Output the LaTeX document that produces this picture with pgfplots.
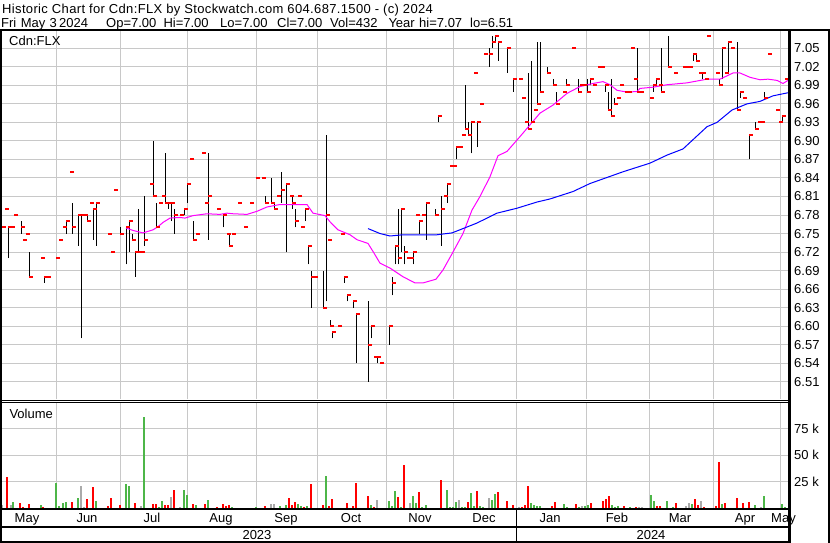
\documentclass[border=0pt]{standalone}
\usepackage{fontspec}
\setmainfont{Liberation Sans}
\usepackage{pgfplots}
\pgfplotsset{compat=1.18}
\usepackage{pgfplotstable}
\definecolor{gridgray}{RGB}{200,200,200}
\definecolor{vgreen}{RGB}{77,182,72}
\definecolor{vgrey}{RGB}{170,170,170}
\definecolor{pred}{RGB}{255,0,0}
\definecolor{mamag}{RGB}{255,0,255}
\definecolor{mablue}{RGB}{0,0,255}
\pgfdeclareplotmark{closetick}{\pgfpathrectangle{\pgfpoint{0pt}{-1pt}}{\pgfpoint{3.6pt}{2pt}}\pgfusepathqfill}
\newcommand{\tf}{\fontsize{13}{15}\selectfont}

\pgfplotstableread{
x lo hi c
2 6.76 6.76 6.76
5 6.79 6.79 6.79
8 6.71 6.76 6.76
11 6.76 6.76 6.76
14 6.78 6.78 6.78
21 6.75 6.77 6.76
23 6.74 6.74 6.74
26 6.75 6.75 6.75
29 6.68 6.72 6.68
41 6.71 6.71 6.71
44 6.67 6.68 6.68
47 6.68 6.68 6.68
56 6.71 6.71 6.71
59 6.74 6.74 6.74
63 6.76 6.76 6.76
66 6.75 6.77 6.77
70 6.85 6.85 6.85
72 6.75 6.80 6.76
78 6.73 6.78 6.78
81 6.58 6.78 6.78
84 6.78 6.78 6.78
87 6.77 6.78 6.77
90 6.80 6.80 6.80
93 6.74 6.79 6.79
96 6.73 6.80 6.80
108 6.75 6.75 6.75
111 6.72 6.72 6.72
114 6.82 6.82 6.82
120 6.75 6.76 6.75
126 6.70 6.76 6.76
129 6.72 6.77 6.77
132 6.74 6.75 6.74
135 6.68 6.72 6.72
138 6.72 6.79 6.72
141 6.72 6.72 6.72
144 6.73 6.81 6.74
150 6.83 6.83 6.83
153 6.81 6.90 6.81
156 6.76 6.80 6.76
159 6.80 6.80 6.80
162 6.81 6.81 6.81
165 6.80 6.88 6.80
168 6.79 6.80 6.80
171 6.77 6.80 6.80
174 6.75 6.79 6.78
180 6.78 6.78 6.78
184 6.78 6.79 6.79
187 6.80 6.83 6.83
190 6.87 6.87 6.87
193 6.74 6.77 6.74
196 6.75 6.75 6.75
202 6.88 6.88 6.88
205 6.80 6.80 6.80
208 6.74 6.88 6.81
217 6.79 6.79 6.79
223 6.76 6.78 6.78
227 6.75 6.75 6.75
229 6.73 6.75 6.73
232 6.75 6.75 6.75
238 6.80 6.80 6.80
244 6.76 6.76 6.76
250 6.80 6.80 6.80
256 6.84 6.84 6.84
262 6.84 6.84 6.84
265 6.80 6.81 6.80
271 6.80 6.84 6.80
274 6.79 6.80 6.79
277 6.81 6.81 6.81
281 6.80 6.85 6.82
286 6.72 6.83 6.83
290 6.81 6.81 6.81
292 6.79 6.81 6.80
295 6.76 6.79 6.77
298 6.81 6.81 6.81
301 6.76 6.76 6.76
305 6.77 6.79 6.79
308 6.70 6.73 6.73
311 6.63 6.69 6.68
314 6.68 6.68 6.68
323 6.63 6.69 6.63
326 6.64 6.91 6.78
328 6.74 6.74 6.74
330 6.60 6.61 6.60
332 6.58 6.59 6.59
338 6.60 6.60 6.60
341 6.75 6.75 6.75
344 6.67 6.68 6.68
347 6.64 6.65 6.65
353 6.63 6.64 6.64
356 6.54 6.62 6.62
368 6.51 6.64 6.57
371 6.58 6.60 6.60
374 6.55 6.55 6.55
377 6.54 6.55 6.55
380 6.54 6.54 6.54
389 6.57 6.60 6.60
392 6.65 6.68 6.67
395 6.70 6.73 6.73
398 6.70 6.79 6.71
401 6.72 6.79 6.79
404 6.70 6.73 6.72
407 6.71 6.71 6.71
410 6.71 6.71 6.71
413 6.70 6.72 6.72
416 6.78 6.78 6.78
419 6.75 6.77 6.77
422 6.78 6.78 6.78
426 6.74 6.80 6.80
435 6.78 6.79 6.78
438 6.93 6.94 6.94
441 6.73 6.81 6.79
444 6.81 6.81 6.81
447 6.80 6.83 6.83
450 6.86 6.86 6.86
453 6.86 6.86 6.86
456 6.87 6.89 6.89
459 6.89 6.89 6.89
462 6.91 6.91 6.91
465 6.92 6.99 6.92
468 6.91 6.93 6.91
471 6.88 6.93 6.93
474 7.01 7.01 7.01
477 6.89 6.93 6.93
480 6.96 6.96 6.96
484 7.04 7.04 7.04
489 7.02 7.05 7.04
492 7.05 7.07 7.06
495 7.06 7.07 7.07
498 7.03 7.06 7.06
507 7.01 7.05 7.05
513 6.98 7.00 7.00
519 7.00 7.00 7.00
522 6.97 6.97 6.97
525 6.93 6.93 6.93
528 6.92 7.01 6.92
531 6.93 7.03 6.93
534 6.95 6.95 6.95
537 6.96 7.06 6.96
540 6.98 7.06 6.98
547 7.01 7.02 7.01
553 6.99 7.00 6.99
556 6.96 6.98 6.96
563 6.98 6.98 6.98
566 6.99 7.00 6.99
572 7.05 7.05 7.05
578 6.98 7.00 6.98
580 6.99 6.99 6.99
583 6.99 6.99 6.99
587 6.98 7.00 6.98
590 6.99 7.00 7.00
593 6.99 6.99 6.99
598 7.02 7.02 7.02
601 7.02 7.02 7.02
605 6.98 6.99 6.99
608 6.95 6.98 6.95
611 6.94 7.00 6.94
614 6.96 6.97 6.96
617 6.97 6.97 6.97
620 6.99 6.99 6.99
625 6.98 6.98 6.98
628 6.98 6.98 6.98
631 7.05 7.05 7.05
634 7.00 7.00 7.00
637 6.98 7.05 6.98
640 6.98 6.98 6.98
650 6.97 6.97 6.97
653 6.98 6.99 6.99
656 6.99 7.00 7.00
659 6.99 6.99 6.99
661 6.98 7.05 6.98
668 7.02 7.07 7.02
674 7.01 7.01 7.01
683 7.02 7.02 7.02
686 7.02 7.02 7.02
689 7.02 7.02 7.02
693 7.03 7.04 7.04
696 7.03 7.04 7.03
699 7.01 7.01 7.01
702 7.00 7.01 7.01
705 7.00 7.00 7.00
707 7.07 7.07 7.07
716 7.01 7.01 7.01
719 6.99 7.00 6.99
722 7.00 7.05 7.05
725 7.01 7.01 7.01
728 7.01 7.06 7.06
731 7.05 7.05 7.05
737 6.95 7.06 6.95
740 6.97 6.98 6.98
743 6.97 6.97 6.97
749 6.87 6.91 6.91
755 6.92 6.93 6.92
758 6.93 6.93 6.93
761 6.93 6.93 6.93
764 6.97 6.98 6.97
768 7.04 7.04 7.04
776 6.95 6.95 6.95
779 6.93 6.93 6.93
782 6.93 6.94 6.94
785 7.00 7.00 7.00
}\ohlc

\pgfplotstableread{
x v
13.3 6.0
40.7 2.8
55.7 23.9
58.7 1.9
62.7 5.0
65.7 6.0
77.7 9.7
89.7 0.3
95.7 6.6
113.7 0.3
125.7 22.6
128.7 21.0
143.7 85.8
158.7 0.9
161.7 6.6
183.7 17.0
186.7 12.6
189.7 0.3
195.7 2.8
207.7 7.5
231.7 0.9
237.7 0.3
249.7 0.3
255.7 0.9
261.7 0.3
276.7 0.3
279.7 2.2
285.7 2.8
297.7 4.1
300.7 1.9
306.7 2.2
325.7 30.6
337.7 0.3
340.7 0.3
370.7 2.8
388.7 6.6
391.7 1.9
394.7 16.0
400.7 0.9
412.7 11.3
415.7 4.7
421.7 0.9
425.7 2.8
443.7 0.3
446.7 17.0
449.7 0.9
452.7 0.9
455.7 5.7
461.7 0.9
464.7 0.9
470.7 14.2
473.7 1.9
479.7 1.9
482.7 0.9
491.7 7.5
494.7 13.2
530.7 4.7
533.7 2.8
536.7 1.9
539.7 1.9
545.7 0.3
557.7 0.3
563.7 3.8
566.7 0.9
578.7 0.9
584.7 1.9
587.7 2.8
611.7 2.8
614.7 0.9
617.7 1.9
629.7 0.9
650.7 12.3
653.7 6.6
666.7 6.6
672.7 0.9
682.7 0.3
691.7 3.8
706.7 0.3
721.7 3.8
727.7 0.3
745.7 0.3
754.7 2.8
757.7 0.3
763.7 11.3
766.7 0.3
781.7 3.8
784.7 0.9
}\volgreen

\pgfplotstableread{
x v
7.3 29.6
20.0 5.0
22.7 1.2
26.0 0.3
29.0 3.8
43.3 1.2
71.7 6.0
86.7 8.5
92.7 19.8
107.7 1.9
110.7 9.7
119.7 2.8
131.7 0.3
134.7 5.0
152.7 4.1
155.7 3.4
164.7 2.8
167.7 2.8
173.7 17.0
192.7 4.1
204.7 4.1
216.7 0.9
222.7 4.1
225.7 2.2
228.7 3.1
243.7 0.3
264.7 2.2
288.7 9.4
291.7 2.8
294.7 6.0
303.7 0.9
310.7 22.6
322.7 2.8
328.7 1.9
331.7 8.5
343.7 0.3
346.7 4.7
352.7 1.9
355.7 23.6
367.7 11.6
373.7 0.9
379.7 0.3
397.7 10.4
403.7 40.6
406.7 0.3
418.7 15.1
434.7 0.3
437.7 0.3
440.7 26.4
467.7 5.7
476.7 16.0
497.7 15.1
506.7 6.6
512.7 2.8
521.7 0.9
524.7 2.8
527.7 20.8
551.7 1.9
554.7 5.7
575.7 3.8
590.7 4.7
602.7 6.6
605.7 8.5
608.7 11.3
623.7 1.9
632.7 0.3
635.7 0.9
647.7 0.3
656.7 1.9
659.7 1.9
675.7 4.7
694.7 8.5
697.7 2.8
703.7 0.9
715.7 1.9
718.7 43.7
724.7 4.7
730.7 0.3
736.7 9.4
742.7 4.7
748.7 5.7
775.7 0.3
778.7 0.3
}\volred

\pgfplotstableread{
x v
2.0 2.8
5.0 0.3
10.7 2.8
46.7 0.3
68.7 0.3
80.7 21.0
83.7 1.2
137.7 0.3
140.7 2.2
149.7 0.3
170.7 10.7
179.7 0.9
201.7 0.3
270.7 4.1
273.7 4.1
313.7 0.3
376.7 7.5
409.7 4.7
458.7 7.5
488.7 9.4
518.7 0.9
569.7 0.3
581.7 1.9
596.7 0.3
638.7 0.9
641.7 0.9
685.7 1.9
688.7 4.7
700.7 6.6
760.7 0.9
}\volgrey

\begin{document}
\begin{tikzpicture}
\useasboundingbox (0,0) rectangle (830pt,-543pt);
\fill[white] (0,0) rectangle (830pt,-543pt);

% price panel
\begin{axis}[
  at={(2pt,-399pt)}, anchor=south west, scale only axis,
  width=787pt, height=368pt,
  xmin=2, xmax=789, ymin=6.482, ymax=7.078,
  axis line style={draw=none}, major tick length=0pt,
  xtick={56.7,120.7,187.7,256.7,317.7,386.7,453.7,516.7,586.5,649.7,713.3,780},
  xticklabels={},
  ytick={6.51,6.54,6.57,6.60,6.63,6.66,6.69,6.72,6.75,6.78,6.81,6.84,6.87,6.90,6.93,6.96,6.99,7.02,7.05},
  yticklabel pos=right,
  yticklabel style={anchor=west, inner sep=0pt, xshift=5pt, font=\tf,
    /pgf/number format/.cd, fixed, fixed zerofill, precision=2, assume math mode=true},
  grid=major, grid style={gridgray, line width=1pt},
  clip=false,
]
\addplot[draw=none, mark=none, forget plot,
  error bars/.cd, y dir=plus, y explicit, error mark=none,
  error bar style={draw=black, line width=1pt}]
  table[x=x, y=lo, y error expr=\thisrow{hi}-\thisrow{lo}] {\ohlc};
\addplot[only marks, mark=closetick, color=pred] table[x=x, y=c] {\ohlc};
\addplot[mamag, line width=1pt, mark=none] coordinates {
(126,6.759) (133,6.755) (143,6.751) (153,6.756) (158,6.761) (163,6.768) (170,6.775)
(180,6.776) (185,6.775) (193,6.779) (207,6.782) (220,6.781) (227,6.783) (233,6.782)
(247,6.781) (257,6.786) (267,6.793) (280,6.797) (307,6.797) (313,6.783) (325,6.779)
(330,6.769) (338,6.756) (350,6.748) (357,6.740) (368,6.734) (373,6.721) (380,6.702)
(390,6.694) (403,6.680) (415,6.670) (423,6.670) (436,6.676) (443,6.691) (453,6.720)
(463,6.750) (472,6.788) (480,6.810) (490,6.842) (498,6.876) (507,6.883) (520,6.907)
(530,6.926) (540,6.945) (553,6.958) (567,6.977) (580,6.988) (593,6.993) (603,6.996)
(610,6.991) (617,6.982) (627,6.979) (637,6.980) (640,6.985) (653,6.987) (667,6.991)
(687,6.994) (707,7.000) (720,7.000) (733,7.010) (740,7.010) (750,7.003) (760,6.999)
(768,7.000) (777,6.998) (783,6.993) (788,6.998)
};
\addplot[mablue, line width=1pt, mark=none] coordinates {
(368,6.758) (380,6.750) (390,6.746) (403,6.748) (437,6.748) (452,6.751) (463,6.758)
(477,6.767) (497,6.783) (517,6.791) (537,6.801) (550,6.806) (573,6.818) (590,6.831)
(623,6.850) (650,6.864) (667,6.877) (683,6.887) (707,6.923) (717,6.930) (732,6.950)
(747,6.960) (760,6.964) (773,6.973) (788,6.978)
};
\end{axis}

% volume panel
\begin{axis}[
  at={(2pt,-509pt)}, anchor=south west, scale only axis,
  width=787pt, height=107pt,
  xmin=2, xmax=789, ymin=-0.94, ymax=100,
  axis line style={draw=none}, major tick length=0pt,
  xtick={56.7,120.7,187.7,256.7,317.7,386.7,453.7,516.7,586.5,649.7,713.3,780},
  xticklabels={},
  ytick={25,50,75}, yticklabels={25 k,50 k,75 k},
  yticklabel pos=right,
  yticklabel style={anchor=west, inner sep=0pt, xshift=5pt, font=\tf},
  grid=major, grid style={gridgray, line width=1pt},
]
\addplot[ycomb, color=vgreen, line width=2pt, mark=none] table[x=x, y=v] {\volgreen};
\addplot[ycomb, color=pred, line width=2pt, mark=none] table[x=x, y=v] {\volred};
\addplot[ycomb, color=vgrey, line width=2pt, mark=none] table[x=x, y=v] {\volgrey};
\end{axis}

% frame lines
\draw[line width=2pt] (0,-30.3pt) -- (830pt,-30.3pt);
\draw[line width=2pt] (1pt,-30pt) -- (1pt,-542pt);
\draw[line width=2.5pt] (789.5pt,-30pt) -- (789.5pt,-543pt);
\draw[line width=2pt] (829pt,-30pt) -- (829pt,-543pt);
\draw[line width=1pt] (0,-400pt) -- (789pt,-400pt);
\draw[line width=1pt] (0,-402.5pt) -- (789pt,-402.5pt);
\draw[line width=2pt] (0,-509.3pt) -- (789pt,-509.3pt);
\draw[line width=2pt] (0,-526.5pt) -- (789pt,-526.5pt);
\draw[line width=2pt] (0,-542pt) -- (789pt,-542pt);
\draw[line width=1.5pt] (516.7pt,-509pt) -- (516.7pt,-542pt);

% texts
\node[anchor=base west, inner sep=0pt, font=\tf] at (2pt,-13.3pt) {\addfontfeature{LetterSpace=2.7}Historic Chart for Cdn:FLX by Stockwatch.com 604.687.1500 - (c) 2024};
\node[anchor=base west, inner sep=0pt, font=\tf] at (1pt,-27.5pt) {Fri};
\node[anchor=base west, inner sep=0pt, font=\tf] at (20.7pt,-27.5pt) {May};
\node[anchor=base west, inner sep=0pt, font=\tf] at (49.5pt,-27.5pt) {3};
\node[anchor=base west, inner sep=0pt, font=\tf] at (59pt,-27.5pt) {2024};
\node[anchor=base west, inner sep=0pt, font=\tf] at (106pt,-27.5pt) {Op=7.00};
\node[anchor=base west, inner sep=0pt, font=\tf] at (163.3pt,-27.5pt) {Hi=7.00};
\node[anchor=base west, inner sep=0pt, font=\tf] at (220pt,-27.5pt) {Lo=7.00};
\node[anchor=base west, inner sep=0pt, font=\tf] at (277pt,-27.5pt) {Cl=7.00};
\node[anchor=base west, inner sep=0pt, font=\tf] at (330pt,-27.5pt) {Vol=432};
\node[anchor=base west, inner sep=0pt, font=\tf] at (388.3pt,-27.5pt) {Year};
\node[anchor=base west, inner sep=0pt, font=\tf] at (419pt,-27.5pt) {hi=7.07};
\node[anchor=base west, inner sep=0pt, font=\tf] at (470pt,-27.5pt) {lo=6.51};
\node[anchor=base west, inner sep=0pt, font=\tf] at (9pt,-46pt) {Cdn:FLX};
\node[anchor=base west, inner sep=0pt, font=\tf] at (9.3pt,-418pt) {Volume};

\foreach \xc/\m in {27/May,87/Jun,152/Jul,221/Aug,286/Sep,351/Oct,420/Nov,484/Dec,550/Jan,617/Feb,680/Mar,745/Apr,783.5/May}
  \node[anchor=base, inner sep=0pt, font=\tf] at (\xc pt,-522.5pt) {\m};
\node[anchor=base, inner sep=0pt, font=\tf] at (257pt,-539pt) {2023};
\node[anchor=base, inner sep=0pt, font=\tf] at (651pt,-539pt) {2024};
\end{tikzpicture}
\end{document}
